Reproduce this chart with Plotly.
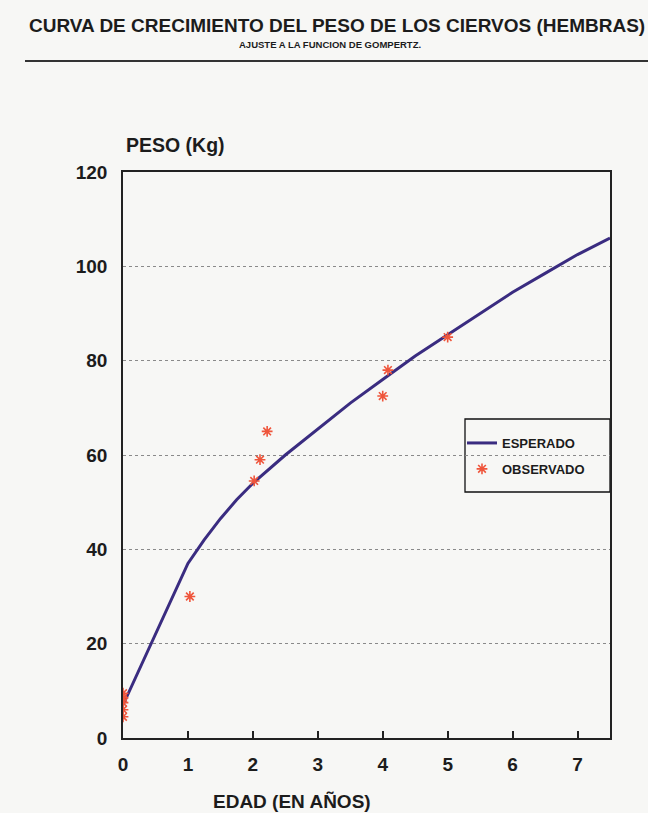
import plotly.graph_objects as go

# Fitted Gompertz curve (expected weight, kg) by age in years
edad_esperado = [0, 1, 1.25, 1.5, 1.75, 2, 2.5, 3, 3.5, 4, 4.5, 5, 5.5, 6, 6.5, 7, 7.5]
peso_esperado = [7, 37, 42, 46.5, 50.5, 54, 60, 65.5, 71, 76, 81, 85.5, 90, 94.5, 98.5, 102.5, 106]

# Observed weights of females (kg)
edad_observado = [0, 0, 0, 0, 0, 1.03, 2.02, 2.11, 2.22, 4.0, 4.08, 5.0]
peso_observado = [4.5, 6, 7.5, 8.5, 9.5, 30, 54.5, 59, 65, 72.5, 78, 85]

x_ticks = [0, 1, 2, 3, 4, 5, 6, 7]
y_ticks = [0, 20, 40, 60, 80, 100, 120]

FONT = "Liberation Sans, Arial, Helvetica, sans-serif"
INK = "#1c1c1c"
PAPER = "#f7f7f5"

# plot area in pixels: x 123..610, y 172..738
L, R, T, B = 123, 610, 172, 738
W, H = R - L, B - T


def px(x):
    return (x - L) / W


def py(y):
    return (B - y) / H


fig = go.Figure()
fig.add_trace(go.Scatter(
    x=edad_esperado, y=peso_esperado, mode="lines", name="ESPERADO",
    line=dict(color="#3a2c80", width=3), legendgroup="a",
))
fig.add_trace(go.Scatter(
    x=edad_observado, y=peso_observado, mode="markers", name="OBSERVADO",
    marker=dict(symbol="asterisk-open", size=9,
                line=dict(color="#c95e2c", width=1.6)),
    legendgroup="b",
))

fig.update_layout(
    width=648, height=813,
    margin=dict(l=L, r=648 - R, t=T, b=813 - B),
    paper_bgcolor=PAPER, plot_bgcolor=PAPER,
    font=dict(family=FONT, color=INK, size=16, weight="bold"),
    showlegend=True,
    legend=dict(
        x=px(462), xanchor="left", y=py(428), yanchor="top",
        bgcolor="rgba(0,0,0,0)", borderwidth=0,
        font=dict(family=FONT, size=13, color=INK, weight="bold"),
        itemwidth=30, tracegroupgap=6,
    ),
    xaxis=dict(
        range=[0, 7.5], tickvals=x_ticks, ticktext=[str(v) for v in x_ticks],
        showline=True, linecolor="#222", linewidth=1.5, mirror=True,
        ticks="inside", ticklen=7, tickwidth=1.5, tickcolor="#222",
        showgrid=False, zeroline=False, ticklabelstandoff=8,
        tickfont=dict(size=19, weight="bold"),
    ),
    yaxis=dict(
        range=[0, 120], tickvals=y_ticks, ticktext=[str(v) for v in y_ticks],
        showline=True, linecolor="#222", linewidth=1.5, mirror=True,
        ticks="", showgrid=True, gridcolor="#8a8a8a", gridwidth=1,
        griddash="dot", zeroline=False, ticklabelstandoff=10,
        tickfont=dict(size=19, weight="bold"),
    ),
    shapes=[
        dict(type="line", xref="paper", yref="paper",
             x0=px(25), x1=px(660), y0=py(61), y1=py(61),
             line=dict(color="#333", width=2)),
        # legend frame
        dict(type="rect", xref="paper", yref="paper",
             x0=px(465), x1=1, y0=py(492), y1=py(419),
             line=dict(color="#111", width=1.3), fillcolor=PAPER,
             layer="below"),
    ],
    annotations=[
        dict(text="CURVA DE CRECIMIENTO DEL PESO DE LOS CIERVOS (HEMBRAS)",
             xref="paper", yref="paper", x=px(27), y=py(26),
             xanchor="left", yanchor="middle", showarrow=False,
             font=dict(size=19, weight="bold", color=INK)),
        dict(text="AJUSTE A LA FUNCION DE GOMPERTZ.",
             xref="paper", yref="paper", x=px(330), y=py(45),
             xanchor="center", yanchor="middle", showarrow=False,
             font=dict(size=9.5, weight="bold", color=INK)),
        dict(text="PESO (Kg)", xref="paper", yref="paper",
             x=px(124), y=py(145), xanchor="left", yanchor="middle",
             showarrow=False, font=dict(size=19.5, weight="bold", color=INK)),
        dict(text="EDAD (EN AÑOS)", xref="paper", yref="paper",
             x=px(292), y=py(801), xanchor="center", yanchor="middle",
             showarrow=False, font=dict(size=19, weight="bold", color=INK)),
    ],
)

fig.write_html("out.html")
